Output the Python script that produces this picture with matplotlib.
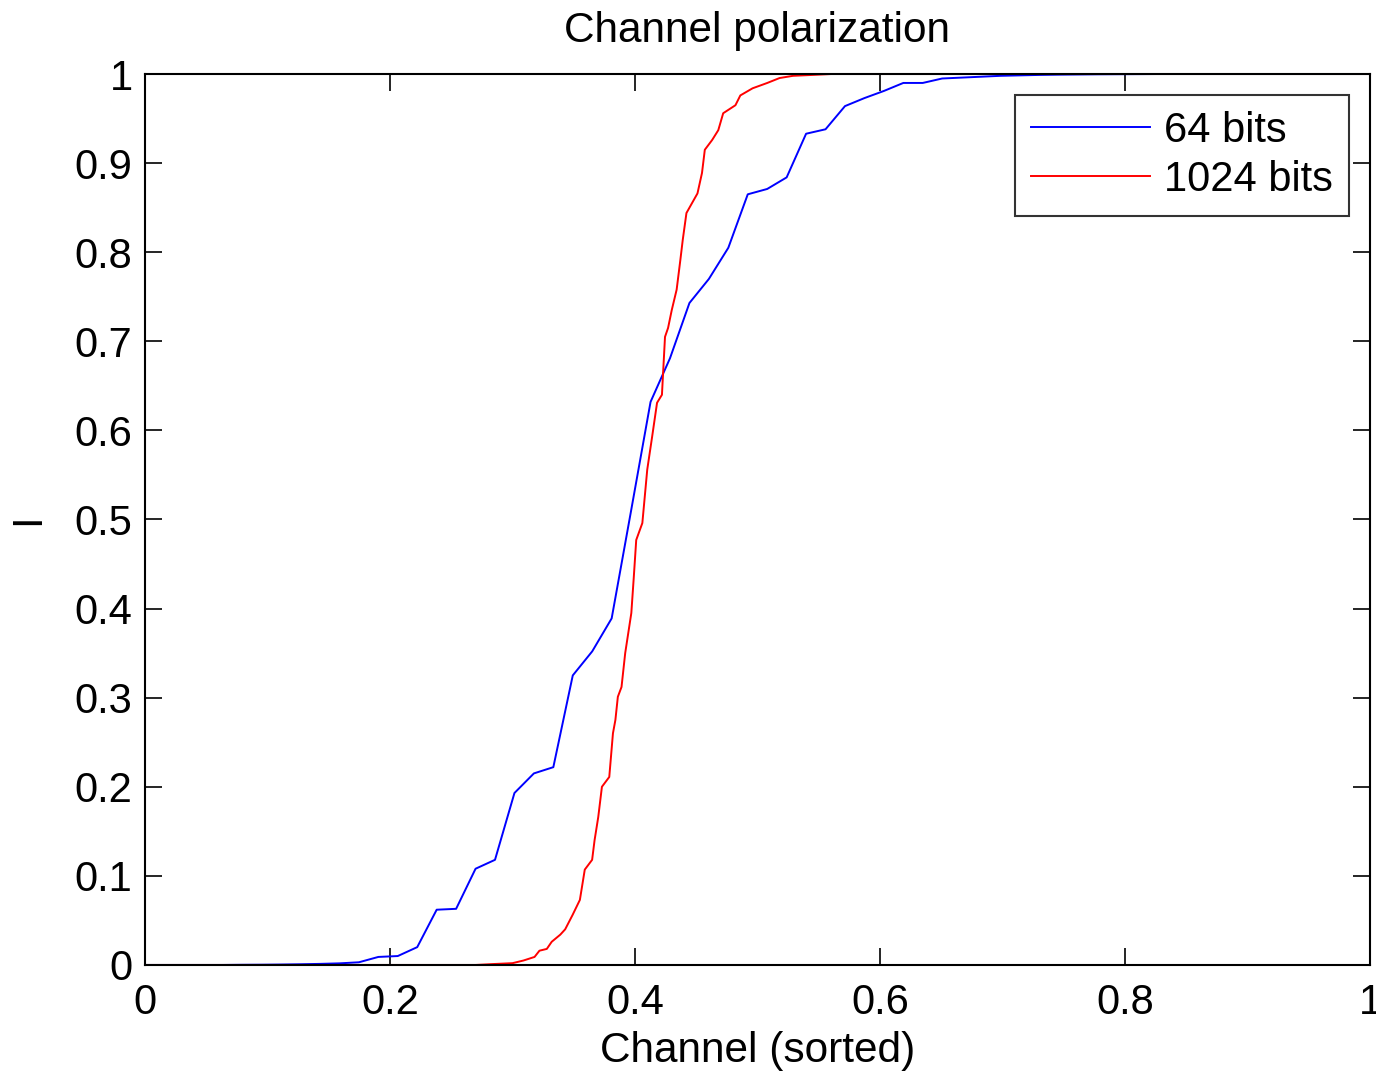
import matplotlib
matplotlib.use('Agg')
import matplotlib.pyplot as plt
import numpy as np

plt.rcParams['font.family'] = ['Liberation Sans', 'DejaVu Sans']

# 64-bit channels: sorted mutual information, channel index i/63
bits64 = [0.0, 0.0, 0.0, 0.0, 0.0, 0.0002, 0.0003, 0.0005, 0.0008, 0.0012,
          0.0018, 0.003, 0.009, 0.010, 0.020, 0.062, 0.063, 0.108, 0.118, 0.193,
          0.215, 0.222, 0.325, 0.352, 0.389, 0.510, 0.632, 0.681, 0.743, 0.770,
          0.805, 0.865, 0.871, 0.884, 0.933, 0.938, 0.964, 0.973, 0.981, 0.990,
          0.990, 0.995, 0.996, 0.997, 0.998, 0.9985, 0.999, 0.9993, 0.9995, 0.9997,
          0.9998, 0.9999, 1.0, 1.0, 1.0, 1.0, 1.0, 1.0, 1.0, 1.0,
          1.0, 1.0, 1.0, 1.0]

# 1024-bit channels: points (sorted channel position, I)
ch1024 = [0.0, 0.20, 0.27, 0.284, 0.300, 0.309, 0.318, 0.322, 0.328, 0.332,
          0.339, 0.343, 0.349, 0.355, 0.359, 0.365, 0.367, 0.370, 0.373, 0.379,
          0.382, 0.384, 0.386, 0.389, 0.392, 0.394, 0.397, 0.399, 0.401, 0.406,
          0.410, 0.414, 0.418, 0.422, 0.4245, 0.427, 0.430, 0.434, 0.437, 0.439,
          0.442, 0.4465, 0.451, 0.4547, 0.457, 0.463, 0.468, 0.472, 0.482, 0.486,
          0.496, 0.508, 0.518, 0.529, 0.545, 0.56, 0.70, 1.0]
bits1024 = [0.0, 0.0, 0.0, 0.001, 0.002, 0.005, 0.009, 0.016, 0.018, 0.026,
            0.034, 0.040, 0.056, 0.073, 0.107, 0.118, 0.140, 0.166, 0.200, 0.211,
            0.260, 0.275, 0.301, 0.312, 0.350, 0.368, 0.395, 0.435, 0.477, 0.496,
            0.556, 0.593, 0.631, 0.640, 0.705, 0.715, 0.735, 0.758, 0.791, 0.814,
            0.844, 0.855, 0.866, 0.889, 0.915, 0.926, 0.937, 0.956, 0.965, 0.976,
            0.984, 0.990, 0.9955, 0.998, 0.999, 1.0, 1.0, 1.0]

ch64 = np.arange(len(bits64)) / (len(bits64) - 1)

fig = plt.figure(figsize=(13.76, 10.73), dpi=100)
ax = fig.add_axes([0.1054, 0.1007, 0.8902, 0.8303])

ax.plot(ch64, bits64, color='#0000ff', lw=1.4, label='64 bits')
ax.plot(ch1024, bits1024, color='#ff0000', lw=1.4, label='1024 bits')

ax.set_xlim(0, 1)
ax.set_ylim(0, 1)
ax.set_xticks(np.arange(0, 1.01, 0.2))
ax.set_xticklabels(['0', '0.2', '0.4', '0.6', '0.8', '1'])
ax.set_yticks(np.arange(0, 1.01, 0.1))
ax.set_yticklabels(['0', '0.1', '0.2', '0.3', '0.4', '0.5', '0.6', '0.7', '0.8', '0.9', '1'])
ax.tick_params(direction='in', length=12, width=1.2, labelsize=30, top=True, right=True)
ax.tick_params(axis='x', pad=13)
ax.tick_params(axis='y', pad=9)
for s in ax.spines.values():
    s.set_linewidth(1.5)

ax.set_title('Channel polarization', fontsize=30.5, pad=23)
ax.set_xlabel('Channel (sorted)', fontsize=30.5, labelpad=6)
ax.set_ylabel('I', fontsize=30, labelpad=19)

leg = ax.legend(loc='upper right', fontsize=30, frameon=True, fancybox=False,
                edgecolor='black', handlelength=2.85, handletextpad=0.35,
                borderaxespad=0.5, labelspacing=0.22, borderpad=0.38)
leg.get_frame().set_linewidth(1.5)

fig.savefig('out.png', dpi=100)
